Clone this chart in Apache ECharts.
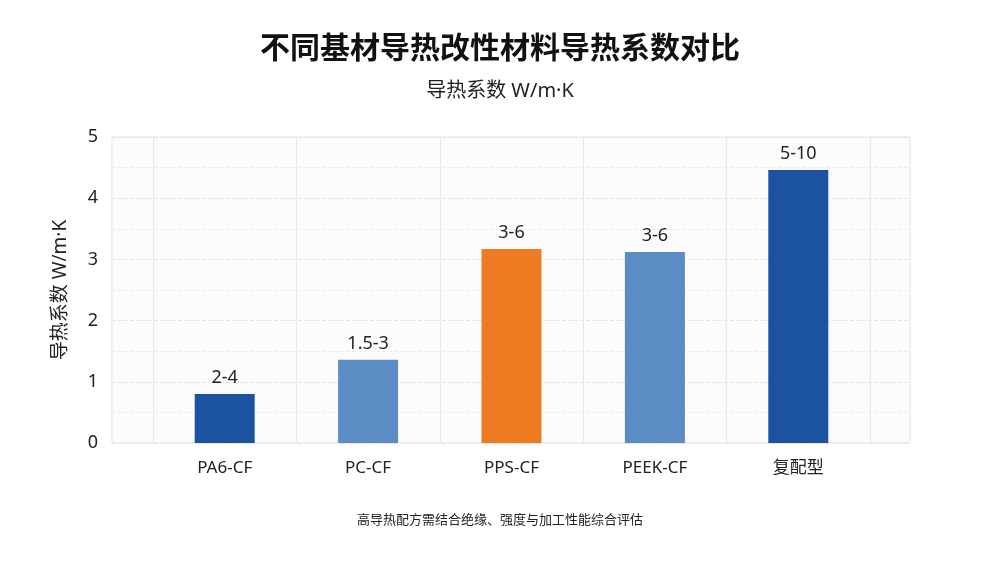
<!DOCTYPE html>
<html>
<head>
<meta charset="utf-8">
<script src="https://cdn.jsdelivr.net/npm/echarts@6/dist/echarts.min.js"></script>
<style>
  html, body { margin: 0; padding: 0; background: #fff; }
  #chart { width: 1000px; height: 561px; }
</style>
</head>
<body>
<div id="chart"></div>
<script>
const categories = ['PA6-CF', 'PC-CF', 'PPS-CF', 'PEEK-CF', '复配型'];
const values = [0.8, 1.36, 3.17, 3.12, 4.46];
const rangeLabels = ['2-4', '1.5-3', '3-6', '3-6', '5-10'];
const barColors = ['#1b53a0', '#5b8cc4', '#f07a22', '#5b8cc4', '#1b53a0'];
const yTicks = [0, 1, 2, 3, 4, 5];

// latin glyphs from Noto Sans (narrow middle dot), CJK falls back
const font = '"Noto Sans", "Noto Sans CJK SC", sans-serif';

const chart = echarts.init(document.getElementById('chart'));

const options = {
  backgroundColor: '#ffffff',
  title: [
    {
      text: '不同基材导热改性材料导热系数对比',
      left: 'center',
      top: 29,
      textStyle: { fontFamily: font, fontSize: 30, fontWeight: 'bold', color: '#111' }
    },
    {
      text: '导热系数 W/m·K',
      left: 'center',
      top: 76,
      textStyle: { fontFamily: font, fontSize: 20, fontWeight: 'normal', color: '#222' }
    },
    {
      text: '高导热配方需结合绝缘、强度与加工性能综合评估',
      left: 'center',
      top: 509,
      textStyle: { fontFamily: font, fontSize: 13, fontWeight: 'normal', color: '#222' }
    }
  ],
  grid: [
    // outer frame with horizontal grid lines
    {
      left: 112, right: 90, top: 137, bottom: 118,
      show: true, backgroundColor: '#fcfcfc', borderColor: '#e2e2e2', borderWidth: 1
    },
    // bars
    { left: 153, right: 130, top: 137, bottom: 118 }
  ],
  xAxis: [
    { gridIndex: 0, type: 'value', min: 0, max: 1, show: false },
    {
      gridIndex: 1,
      type: 'category',
      data: categories,
      axisLine: { show: false },
      axisTick: { show: false },
      axisLabel: { fontFamily: font, fontSize: 17, color: '#222', margin: 17 },
      splitLine: { show: true, lineStyle: { color: '#e6e6e6', width: 1 } }
    }
  ],
  yAxis: [
    {
      gridIndex: 0,
      type: 'value',
      min: 0, max: 5, interval: 1,
      name: '导热系数 W/m·K',
      nameLocation: 'middle',
      nameGap: 42,
      nameTextStyle: { fontFamily: font, fontSize: 19, color: '#222' },
      axisLine: { show: false },
      axisTick: { show: false },
      axisLabel: { fontFamily: font, fontSize: 18, color: '#222', margin: 14,
        formatter: v => yTicks.includes(v) ? String(v) : '' },
      splitLine: { show: true, lineStyle: { color: '#e4e4e4', type: 'dashed' } },
      minorTick: { show: false, splitNumber: 2 },
      minorSplitLine: { show: true, lineStyle: { color: '#ededed', type: 'dashed' } }
    },
    { gridIndex: 1, type: 'value', min: 0, max: 5, interval: 1, show: false }
  ],
  series: [
    {
      type: 'bar',
      xAxisIndex: 1,
      yAxisIndex: 1,
      barWidth: 60,
      data: values.map((v, i) => ({ value: v, itemStyle: { color: barColors[i] } })),
      label: {
        show: true,
        position: 'top',
        distance: 7,
        fontFamily: font,
        fontSize: 18,
        color: '#222',
        formatter: p => rangeLabels[p.dataIndex]
      }
    }
  ]
};

chart.setOption(options);
window.addEventListener('resize', () => chart.resize(), false);
</script>
</body>
</html>
